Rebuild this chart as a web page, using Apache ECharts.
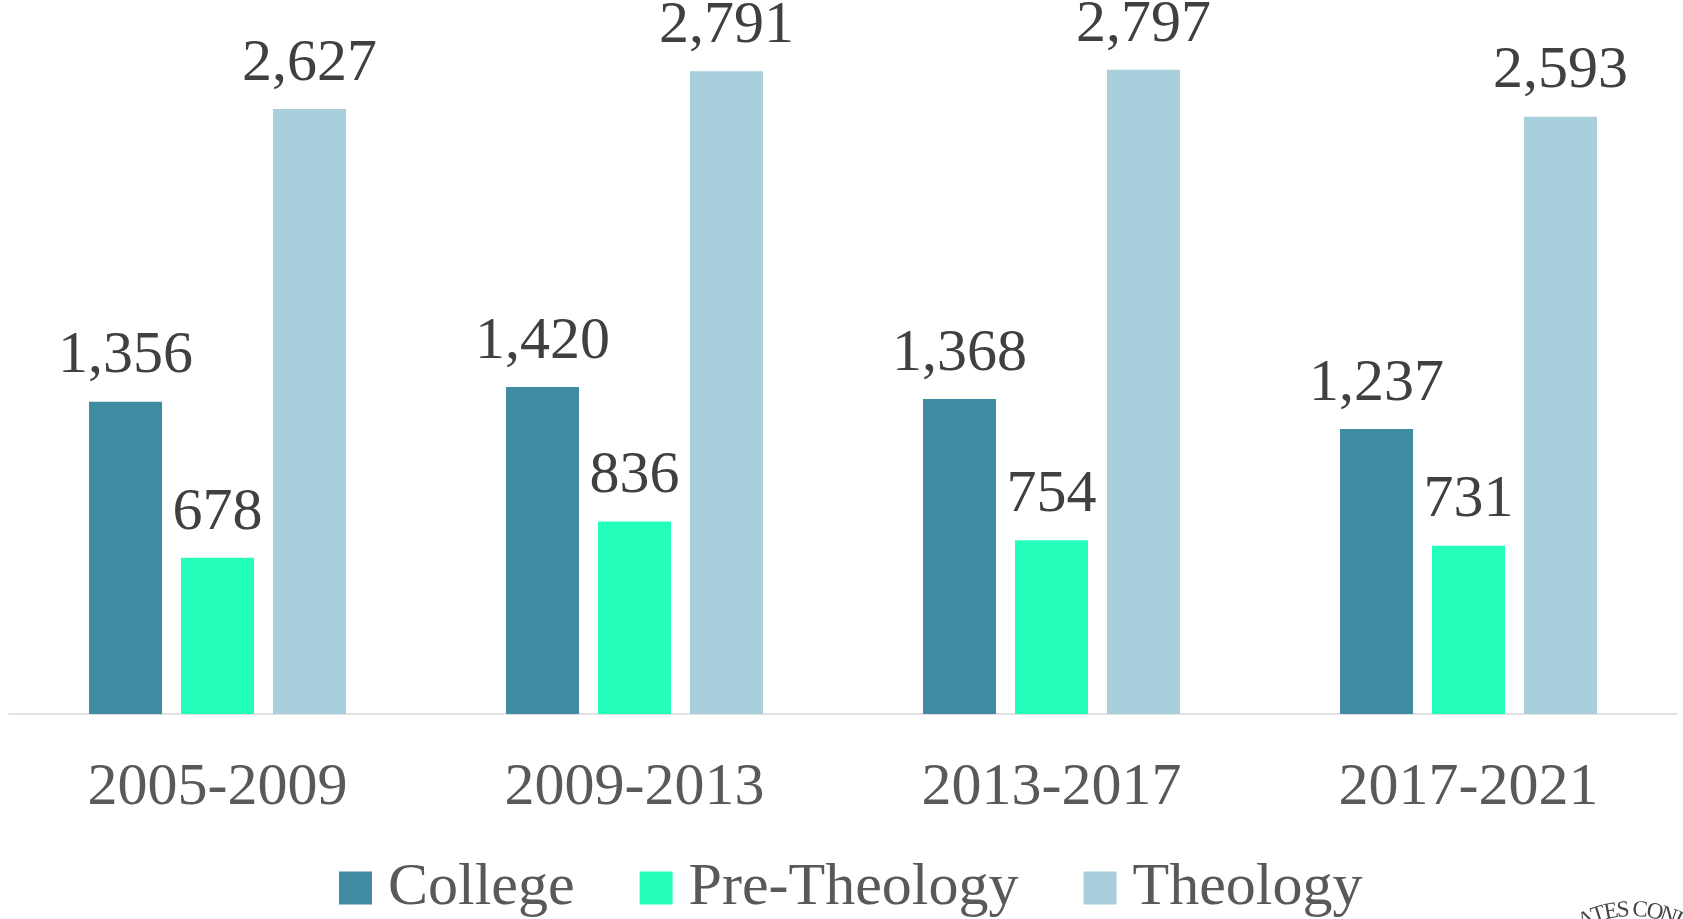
<!DOCTYPE html>
<html>
<head>
<meta charset="utf-8">
<script src="https://cdn.jsdelivr.net/npm/echarts@6/dist/echarts.min.js"></script>
<style>
html,body{margin:0;padding:0;background:#fff;}
#chart{width:1683px;height:919px;}
</style>
</head>
<body>
<div id="chart"></div>
<script>
const categories = ['2005-2009', '2009-2013', '2013-2017', '2017-2021'];
const seriesNames = ['College', 'Pre-Theology', 'Theology'];
const college = [1356, 1420, 1368, 1237];
const preTheology = [678, 836, 754, 731];
const theology = [2627, 2791, 2797, 2593];
const colors = ['#3e8ba2', '#24ffbb', '#a9cedc'];
const sealLetters = ['A', 'T', 'E', 'S', 'C', 'O', 'N', 'F'];
const sealOffsets = [-47, -34, -21, -9, 8, 23, 37, 50];

const FONT = '"Liberation Serif", "DejaVu Serif", serif';
const chart = echarts.init(document.getElementById('chart'));

const seriesData = [college, preTheology, theology];
const series = seriesNames.map((name, i) => ({
  name: name,
  type: 'bar',
  data: seriesData[i],
  barWidth: 73,
  barGap: '26%',
  itemStyle: { color: colors[i] },
  label: {
    show: true,
    position: 'top',
    distance: 15,
    fontFamily: FONT,
    fontSize: 60,
    color: '#404040',
    formatter: p => Number(p.value).toLocaleString('en-US')
  }
}));

// decorative partial seal text (bottom-right corner)
const R = 110, CX = 1632, CY = 1020;
const seal = sealLetters.map((ch, i) => {
  const a = sealOffsets[i] / R;
  return {
    type: 'text',
    x: CX + R * Math.sin(a),
    y: CY - R * Math.cos(a),
    rotation: -a,
    silent: true,
    style: {
      text: ch,
      fontFamily: FONT,
      fontSize: 23,
      fill: '#444444',
      align: 'center',
      verticalAlign: 'middle'
    }
  };
});

chart.setOption({
  animation: false,
  backgroundColor: '#ffffff',
  grid: { left: 9, right: 6, top: 23, bottom: 205, containLabel: false },
  legend: {
    data: seriesNames,
    top: 853,
    left: 334,
    icon: 'rect',
    itemWidth: 33,
    itemHeight: 33,
    itemGap: 65,
    textStyle: {
      fontFamily: FONT,
      fontSize: 60,
      lineHeight: 60,
      color: '#595959',
      padding: [0, 0, 0, 11]
    }
  },
  xAxis: {
    type: 'category',
    data: categories,
    axisTick: { show: false },
    axisLine: { lineStyle: { color: '#d9d9d9', width: 1.5 } },
    axisLabel: {
      margin: 44,
      fontFamily: FONT,
      fontSize: 60,
      color: '#595959'
    }
  },
  yAxis: {
    type: 'value',
    min: 0,
    max: 3000,
    interval: 500,
    show: false,
    splitLine: { show: false }
  },
  series: series,
  graphic: seal
});
</script>
</body>
</html>
